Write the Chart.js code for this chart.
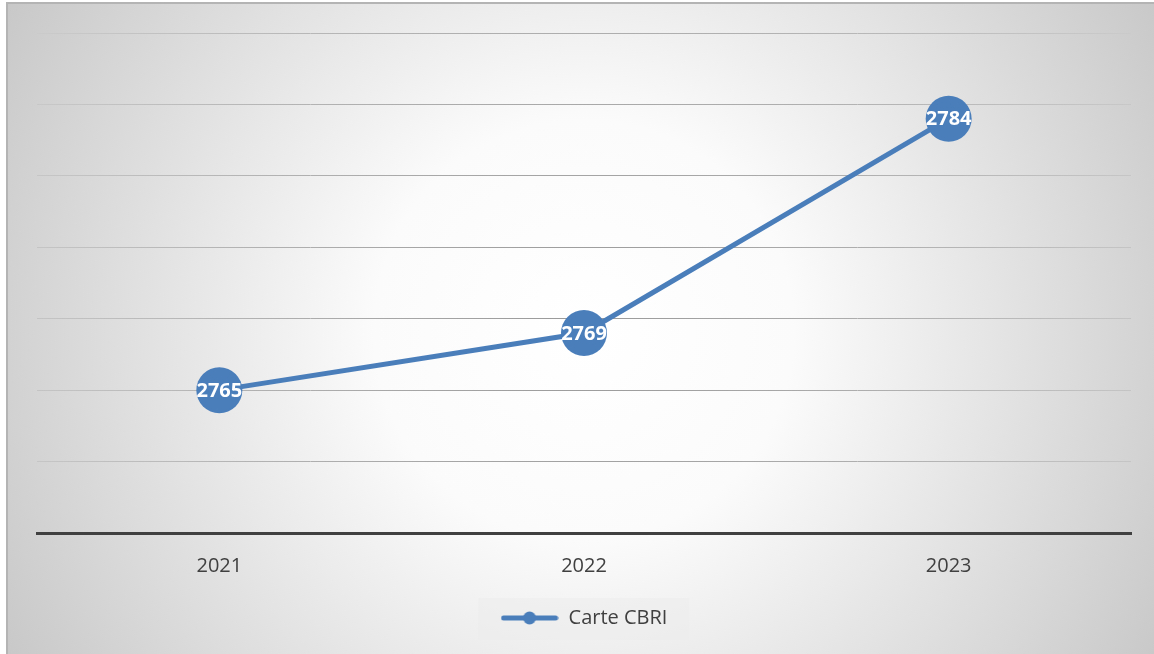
<!DOCTYPE html>
<html>
<head>
<meta charset="utf-8">
<script src="https://cdn.jsdelivr.net/npm/chart.js@4.4.1/dist/chart.umd.min.js"></script>
<style>
html,body{margin:0;padding:0;background:#fff;}
#wrap{width:1154px;height:654px;position:relative;}
</style>
</head>
<body>
<div id="wrap"><canvas id="c" width="1154" height="654"></canvas></div>
<script>
const categories = ['2021', '2022', '2023'];
const seriesName = 'Carte CBRI';
const seriesValues = [2765, 2769, 2784];
const yMin = 2755, yMax = 2790, yStep = 5;

const lineColor = '#4a7ebb';
const textColor = '#404040';
const fontFamily = "'Open Sans', 'Liberation Sans', sans-serif";

const cvs = document.getElementById('c');
const ctx0 = cvs.getContext('2d');
const gridGrad = ctx0.createRadialGradient(584, 330, 0, 584, 330, 650);
gridGrad.addColorStop(0, '#999999');
gridGrad.addColorStop(0.5, '#b0b0b0');
gridGrad.addColorStop(1, '#cdcdcd');

// legend symbol: line with dot
const legendIcon = document.createElement('canvas');
legendIcon.width = 58; legendIcon.height = 14;
(function(){
  const g = legendIcon.getContext('2d');
  g.strokeStyle = lineColor; g.lineWidth = 5; g.lineCap = 'round';
  g.beginPath(); g.moveTo(3, 7); g.lineTo(55, 7); g.stroke();
  g.fillStyle = lineColor;
  g.beginPath(); g.arc(29, 7, 6.5, 0, Math.PI*2); g.fill();
})();

const bgPlugin = {
  id: 'bg',
  beforeDraw(chart) {
    const ctx = chart.ctx;
    ctx.save();
    ctx.fillStyle = '#ffffff';
    ctx.fillRect(0, 0, chart.width, chart.height);
    const x0 = 7, y0 = 3, x1 = chart.width, y1 = chart.height;
    const cx = 584, cy = 330;
    const grad = ctx.createRadialGradient(cx, cy, 0, cx, cy, 700);
    grad.addColorStop(0, '#ffffff');
    grad.addColorStop(0.3, '#fbfbfb');
    grad.addColorStop(1, '#c4c4c4');
    ctx.fillStyle = grad;
    ctx.fillRect(x0, y0, x1 - x0, y1 - y0);
    ctx.strokeStyle = '#b4b4b4';
    ctx.lineWidth = 2;
    ctx.beginPath();
    ctx.moveTo(x0, y1); ctx.lineTo(x0, y0); ctx.lineTo(x1, y0);
    ctx.stroke();
    // legend box
    const lg = chart.legend;
    if (lg && lg.legendHitBoxes && lg.legendHitBoxes.length) {
      const hb = lg.legendHitBoxes[0];
      ctx.fillStyle = 'rgba(236,236,236,0.5)';
      ctx.fillRect(hb.left - 22, hb.top - 10, hb.width + 44, hb.height + 22);
    }
    ctx.restore();
  }
};

const labelPlugin = {
  id: 'pointLabels',
  afterDatasetsDraw(chart) {
    const ctx = chart.ctx;
    const meta = chart.getDatasetMeta(0);
    ctx.save();
    ctx.fillStyle = '#ffffff';
    ctx.font = "bold 20px " + fontFamily;
    ctx.textAlign = 'center';
    ctx.textBaseline = 'middle';
    meta.data.forEach((pt, i) => {
      ctx.fillText(String(seriesValues[i]), pt.x, pt.y + 1);
    });
    ctx.restore();
  }
};

new Chart(cvs, {
  type: 'line',
  data: {
    labels: categories,
    datasets: [{
      label: seriesName,
      data: seriesValues,
      borderColor: lineColor,
      backgroundColor: lineColor,
      borderWidth: 5,
      pointRadius: 23,
      pointHoverRadius: 23,
      pointBackgroundColor: lineColor,
      pointBorderWidth: 0,
      tension: 0,
      clip: false
    }]
  },
  options: {
    responsive: false,
    animation: false,
    events: [],
    layout: { padding: { left: 37, right: 23, top: 33, bottom: 16 } },
    plugins: {
      tooltip: { enabled: false },
      legend: {
        display: true,
        position: 'bottom',
        labels: {
          usePointStyle: true,
          pointStyleWidth: 58,
          boxHeight: 14,
          padding: 10,
          color: textColor,
          font: { family: fontFamily, size: 20 },
          generateLabels(chart) {
            const items = Chart.defaults.plugins.legend.labels.generateLabels(chart);
            items.forEach(it => { it.pointStyle = legendIcon; });
            return items;
          }
        }
      }
    },
    scales: {
      x: {
        offset: true,
        grid: { display: false, drawTicks: false },
        border: { display: true, color: '#404040', width: 3 },
        ticks: { color: textColor, font: { family: fontFamily, size: 20 }, padding: 21 },
        afterFit(scale) { scale.height = 65; }
      },
      y: {
        min: yMin,
        max: yMax,
        grid: { color: gridGrad, lineWidth: 1, drawTicks: false },
        border: { display: false },
        ticks: { display: false, stepSize: yStep },
        afterFit(scale) { scale.width = 0; }
      }
    }
  },
  plugins: [bgPlugin, labelPlugin]
});
</script>
</body>
</html>
